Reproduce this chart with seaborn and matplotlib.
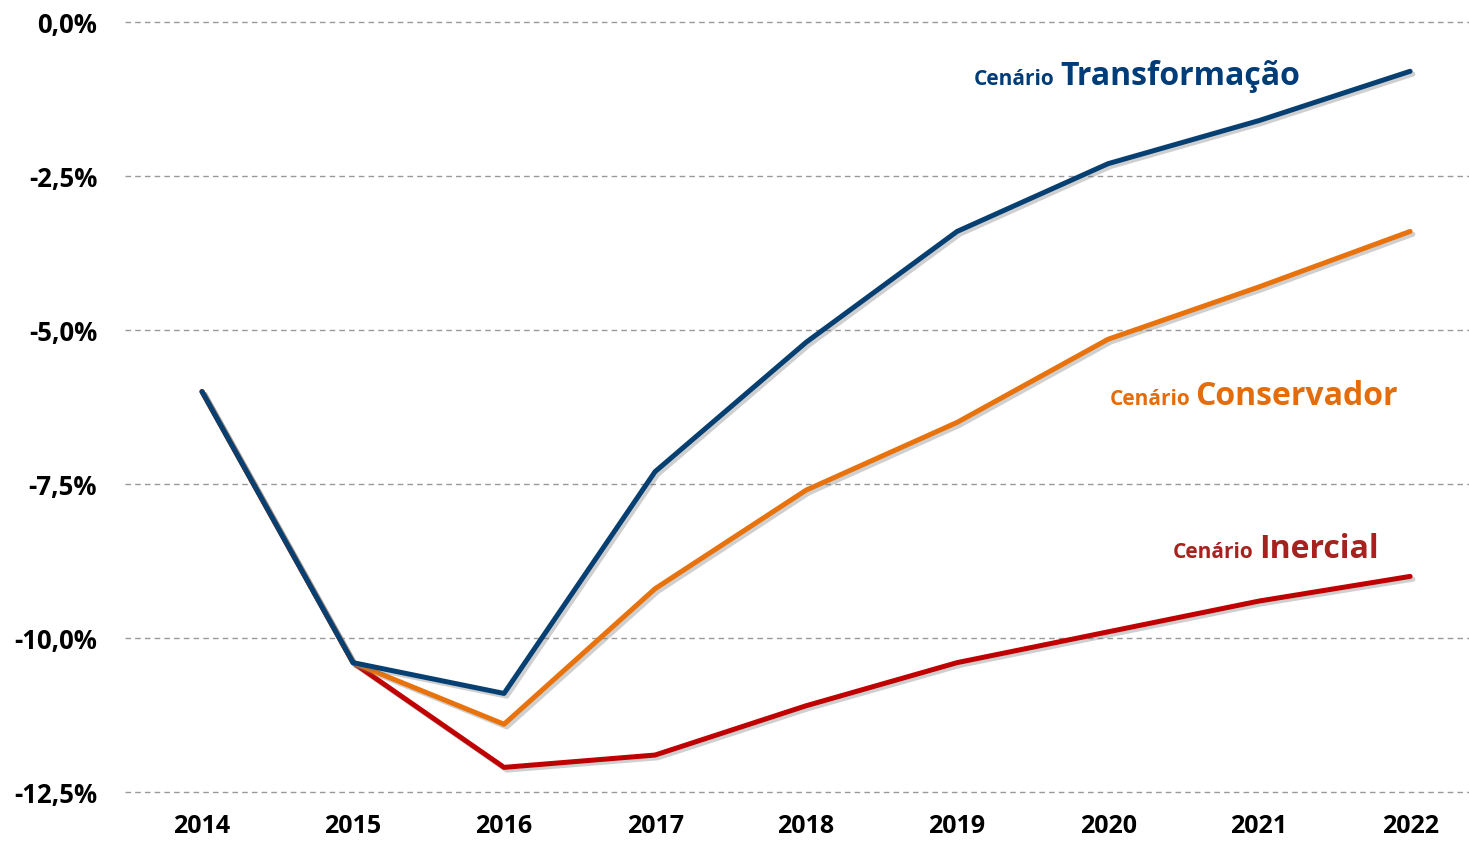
import matplotlib
matplotlib.use("Agg")
import matplotlib.pyplot as plt
import matplotlib.patheffects as pe
import pandas as pd
import seaborn as sns

years = [2014, 2015, 2016, 2017, 2018, 2019, 2020, 2021, 2022]
inercial = [-6.0, -10.4, -12.1, -11.9, -11.1, -10.4, -9.9, -9.4, -9.0]
conservador = [-6.0, -10.4, -11.4, -9.2, -7.6, -6.5, -5.15, -4.3, -3.4]
transformacao = [-6.0, -10.4, -10.9, -7.3, -5.2, -3.4, -2.3, -1.6, -0.8]

scenarios = ["Inercial", "Conservador", "Transformação"]
line_colors = {"Inercial": "#C00000", "Conservador": "#E8730C", "Transformação": "#063F72"}
label_colors = {"Inercial": "#A6221E", "Conservador": "#E46C0A", "Transformação": "#003C78"}
yticks = [0.0, -2.5, -5.0, -7.5, -10.0, -12.5]

df = pd.DataFrame({
    "ano": years * 3,
    "valor": inercial + conservador + transformacao,
    "cenario": ["Inercial"] * 9 + ["Conservador"] * 9 + ["Transformação"] * 9,
})

sns.set_theme(style="white")
plt.rcParams["font.family"] = ["Open Sans", "DejaVu Sans"]

fig = plt.figure(figsize=(14.69, 8.46), dpi=100)
ax = fig.add_axes([125 / 1469, 1 - 792 / 846, 1 - 125 / 1469, 770 / 846])

sns.lineplot(data=df, x="ano", y="valor", hue="cenario", hue_order=scenarios,
             palette=line_colors, linewidth=3.6, legend=False, ax=ax,
             path_effects=[pe.SimpleLineShadow(offset=(2, -2), shadow_color="#777777", alpha=0.35),
                           pe.Normal()])

ax.set_xlim(2013.49, 2022.39)
ax.set_ylim(-12.5, 0)
ax.set_yticks(yticks)
ax.set_yticklabels([f"{v:.1f}%".replace(".", ",") for v in yticks])
ax.set_xticks(years)
ax.set_xticklabels([str(y) for y in years])
ax.tick_params(axis="y", labelsize=18.5, length=0, pad=20)
ax.tick_params(axis="x", labelsize=18, length=0, pad=16)
for lab in ax.get_xticklabels() + ax.get_yticklabels():
    lab.set_fontweight("bold")
    lab.set_color("black")
ax.set_xlabel("")
ax.set_ylabel("")
for s in ax.spines.values():
    s.set_visible(False)
for v in yticks:
    ax.axhline(v, color="#999999", lw=1, ls=(0, (4, 3)), zorder=0, clip_on=False)

label_pos = {"Transformação": (2021.27, -1.02), "Conservador": (2021.92, -6.22), "Inercial": (2021.79, -8.70)}
fig.canvas.draw()
for name in scenarios:
    x, y = label_pos[name]
    big = ax.text(x, y, name, ha="right", va="baseline", fontsize=23, fontweight="bold",
                  color=label_colors[name])
    bb = big.get_window_extent(renderer=fig.canvas.get_renderer())
    x0 = ax.transData.inverted().transform((bb.x0 - 5, 0))[0]
    ax.text(x0, y, "Cenário", ha="right", va="baseline", fontsize=15, fontweight="bold",
            color=label_colors[name])

fig.savefig("out.png", dpi=100)
